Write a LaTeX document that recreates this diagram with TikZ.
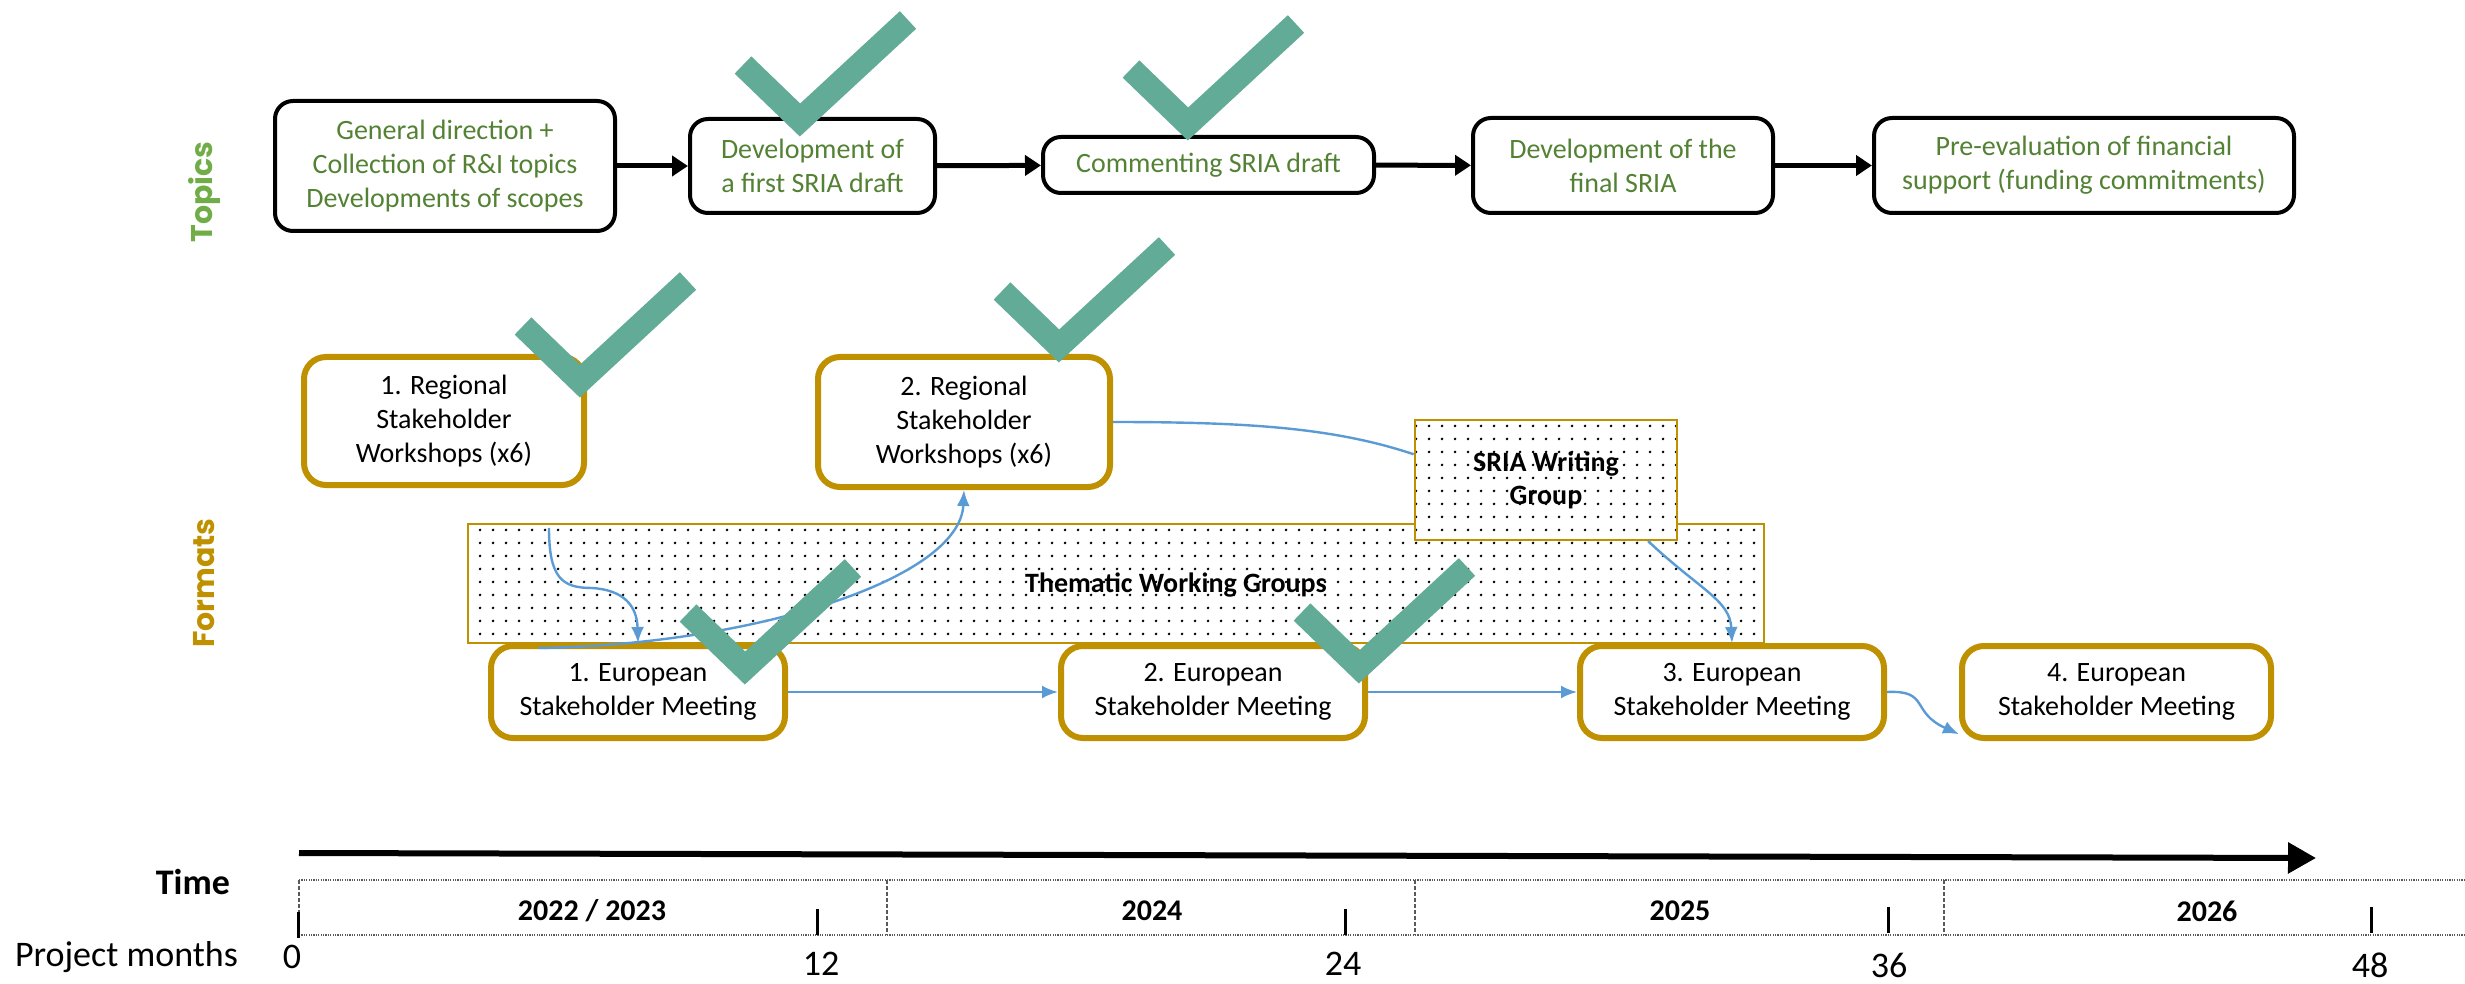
\documentclass[tikz,border=0pt]{standalone}
\usepackage{fontspec}
\setmainfont{Carlito}
\newfontfamily\gothic{Poppins}
\usetikzlibrary{arrows.meta,patterns.meta,calc}
\definecolor{topicgreen}{HTML}{548235}
\definecolor{labelgreen}{HTML}{70AD47}
\definecolor{goldc}{HTML}{BF9000}
\definecolor{ckteal}{HTML}{62AB96}
\definecolor{cblue}{HTML}{5B9BD5}
\newcommand\bxf{\fontsize{14pt}{17pt}\selectfont}
\newcommand\bxb{\bfseries\fontsize{14pt}{16.5pt}\selectfont}
\newcommand\yrf{\bfseries\fontsize{15pt}{18pt}\selectfont}
\newcommand\lblf{\gothic\bfseries\fontsize{15pt}{18pt}\selectfont}
\newcommand\tmf{\fontsize{18pt}{21pt}\selectfont}
\begin{document}
\begin{tikzpicture}[x=0.5pt,y=-0.5pt,
  tbox/.style={draw=black, line width=2pt, rounded corners=9pt, fill=white, align=center, text=topicgreen, font=\bxf, inner sep=0pt},
  fbox/.style={draw=goldc, line width=3pt, rounded corners=11pt, fill=white, align=center, font=\bxf, inner sep=0pt},
  dotbox/.style={draw=goldc, line width=1.3pt, preaction={fill=white}, pattern={Dots[distance=6.5pt,radius=0.75pt]}, inner sep=0pt},
  tarrow/.style={line width=2.5pt, -{Triangle[length=8pt,width=10pt]}},
  conn/.style={draw=cblue, line width=1.2pt, -{Latex[length=8pt,width=6.5pt]}},
  ck/.style={draw=ckteal, line width=12pt, line join=miter, miter limit=10, line cap=butt},
  bandline/.style={draw=gray!70!black, line width=1.4pt, dash pattern=on 0.6pt off 0.6pt},
  sepline/.style={draw=gray!70!black, line width=1.2pt, dash pattern=on 2pt off 1pt},
  tick/.style={draw=black, line width=1.5pt},
  num/.style={font=\tmf, inner sep=1pt},
]
\useasboundingbox (0,0) rectangle (2465,984);

% side labels
\node[rotate=90, text=labelgreen, font=\lblf] (topics) at (204,192) {Topics};
\node[rotate=90, text=goldc, font=\lblf] (formats) at (204,583) {Formats};

% topic boxes
\node[tbox, minimum width=170pt, minimum height=65pt] (t1) at (445,166) {General direction +\\Collection of R\&I topics\\Developments of scopes};
\node[tbox, minimum width=122.5pt, minimum height=47pt] (t2) at (812.5,166) {Development of\\a first SRIA draft};
\node[tbox, minimum width=165.5pt, minimum height=28pt] (t3) at (1208.5,165) {Commenting SRIA draft};
\node[tbox, minimum width=150pt, minimum height=47.5pt] (t4) at (1623,165.5) {Development of the\\final SRIA};
\node[tbox, minimum width=210pt, minimum height=47.5pt] (t5) at (2084,165.5) {Pre-evaluation of financial\\support (funding commitments)};
\draw[tarrow] (t1) -- (t2);
\draw[tarrow] (t2) -- (t3);
\draw[tarrow] (t3) -- (t4);
\draw[tarrow] (t4) -- (t5);

% formats
\node[dotbox, minimum width=648pt, minimum height=59.5pt] (them) at (1116,583.5) {};
\node[font=\bxb] (themlbl) at (1176,585) {Thematic Working Groups};
\node[dotbox, minimum width=131pt, minimum height=60pt, align=center, font=\bxb] (sria) at (1546,480) {SRIA Writing\\Group};

\node[fbox, minimum width=140pt, minimum height=64pt] (r1) at (444,421) {1. Regional\\Stakeholder\\Workshops (x6)};
\node[fbox, minimum width=146pt, minimum height=65pt] (r2) at (964,422) {2. Regional\\Stakeholder\\Workshops (x6)};
\node[fbox, minimum width=147pt, minimum height=46pt] (e1) at (638,692) {1. European\\Stakeholder Meeting};
\node[fbox, minimum width=152pt, minimum height=46pt] (e2) at (1213,692) {2. European\\Stakeholder Meeting};
\node[fbox, minimum width=152pt, minimum height=46pt] (e3) at (1732,692) {3. European\\Stakeholder Meeting};
\node[fbox, minimum width=154.5pt, minimum height=46pt] (e4) at (2116.5,692) {4. European\\Stakeholder Meeting};

% connectors
\coordinate (c1s) at (549,528);
\draw[conn] (c1s) .. controls (549,578) and (562,588) .. (592,588) .. controls (624,590) and (637,606) .. (e1.north);
\coordinate (c2s) at (538,648);
\draw[conn] (c2s) .. controls (750,645) and (960,580) .. (r2.south);
\draw[conn,-] (r2.east) .. controls (1250,422) and (1335,428) .. (sria.169);
\coordinate (c4s) at (1648,541);
\draw[conn] (c4s) .. controls (1700,590) and (1730,600) .. (e3.north);
\draw[conn] (e1) -- (e2);
\draw[conn] (e2) -- (e3);
\draw[conn] (e3.east) .. controls (1930,690) and (1910,712) .. (e4.195);

% check marks
\coordinate (v1) at (800,120);
\coordinate (v2) at (1188,124);
\coordinate (v3) at (580,381);
\coordinate (v4) at (1059,346);
\coordinate (v5) at (745,668);
\coordinate (v6) at (1359,667);
\foreach \v in {v1,v2,v3,v4,v5,v6}{
  \draw[ck] ([shift={(-57,-55)}]\v) -- (\v) -- ([shift={(108,-100)}]\v);
}

% timeline
\coordinate (ta) at (299,853);
\coordinate (tb) at (2316,858);
\draw[line width=3pt, -{Triangle[length=14pt,width=15pt]}] (ta) -- (tb);
\node[font=\tmf\bfseries, anchor=east] (time) at (237,882) {Time};
\draw[bandline] (299,880) -- (2465,880);
\draw[bandline] (299,935) -- (2465,935);
\draw[sepline] (299,880) -- (299,935);
\draw[sepline] (887,880) -- (887,935);
\draw[sepline] (1415,880) -- (1415,935);
\draw[sepline] (1944,880) -- (1944,935);
\node[font=\yrf] (y1) at (592,911) {2022 / 2023};
\node[font=\yrf] (y2) at (1152,911) {2024};
\node[font=\yrf] (y3) at (1680,911) {2025};
\node[font=\yrf] (y4) at (2207,911) {2026};
\draw[tick] (298,912) -- (298,938);
\draw[tick] (817,909) -- (817,935);
\draw[tick] (1345,909) -- (1345,935);
\draw[tick] (1888,907) -- (1888,933);
\draw[tick] (2371,907) -- (2371,933);
\node[font=\tmf, anchor=west] (pm) at (8,957) {Project months};
\node[num] (m0) at (292,957) {0};
\node[num] (m12) at (821,964) {12};
\node[num] (m24) at (1343,964) {24};
\node[num] (m36) at (1889,965) {36};
\node[num] (m48) at (2370,965) {48};
\end{tikzpicture}
\end{document}
